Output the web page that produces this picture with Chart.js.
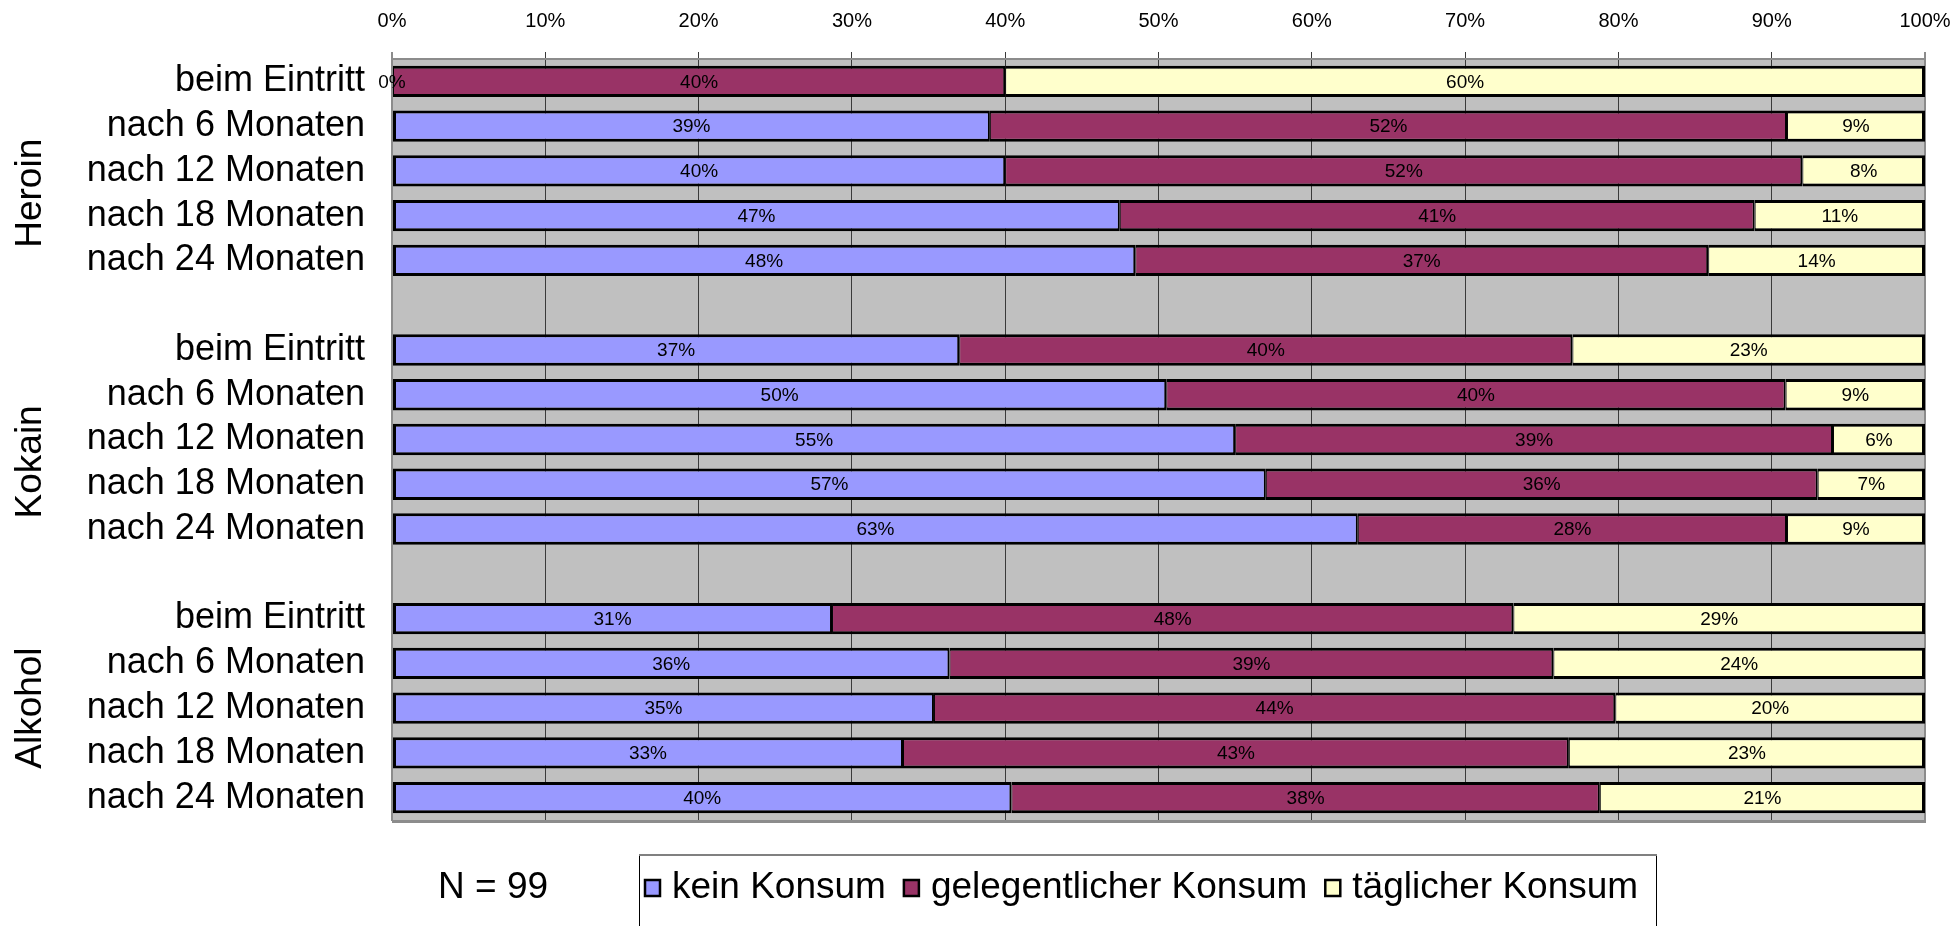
<!DOCTYPE html>
<html>
<head>
<meta charset="utf-8">
<script src="https://cdn.jsdelivr.net/npm/chart.js@4/dist/chart.umd.min.js"></script>
<style>
  html, body { margin: 0; padding: 0; background: #fff; }
  #wrap { width: 1952px; height: 926px; position: relative; }
</style>
</head>
<body>
<div id="wrap"><canvas id="chart"></canvas></div>
<script>
// Werte aus dem Diagramm (Prozent, wie beschriftet)
const groups = ['Heroin', 'Kokain', 'Alkohol'];
const rowLabels = ['beim Eintritt', 'nach 6 Monaten', 'nach 12 Monaten', 'nach 18 Monaten', 'nach 24 Monaten'];
const seriesNames = ['kein Konsum', 'gelegentlicher Konsum', 'täglicher Konsum'];
const seriesColors = ['#9999FF', '#993366', '#FFFFCC'];

const keinKonsum   = [0, 39, 40, 47, 48,   37, 50, 55, 57, 63,   31, 36, 35, 33, 40];
const gelegentlich = [40, 52, 52, 41, 37,  40, 40, 39, 36, 28,   48, 39, 44, 43, 38];
const taeglich     = [60, 9, 8, 11, 14,    23, 9, 6, 7, 9,       29, 24, 20, 23, 21];

const sampleNote = 'N = 99';
const FONT = "'Liberation Sans', Arial, sans-serif";
const NARROW = "'Liberation Sans Narrow', 'Arial Narrow', 'Liberation Sans', sans-serif";

// Kategorien mit Leerzeile zwischen den Gruppen aufbauen
const categories = [];
const rowIndex = [];   // Position in den Wertereihen, null = Leerzeile
const groupRows = [];  // erste/letzte Zeile je Gruppe (inkl. Leerzeile)
groups.forEach((g, gi) => {
    const first = categories.length;
    rowLabels.forEach((r, ri) => {
        categories.push(r);
        rowIndex.push(gi * rowLabels.length + ri);
    });
    if (gi < groups.length - 1) {
        categories.push('');
        rowIndex.push(null);
    }
    groupRows.push([first, categories.length - 1]);
});

const raw = [keinKonsum, gelegentlich, taeglich];

// 100%-gestapelt: Balkenlänge als Anteil an der Zeilensumme
function shares(si) {
    return rowIndex.map(i => {
        if (i === null) return null;
        const sum = keinKonsum[i] + gelegentlich[i] + taeglich[i];
        return raw[si][i] / sum * 100;
    });
}
function pcts(si) {
    return rowIndex.map(i => i === null ? null : raw[si][i]);
}

const borders = [
    { top: 3, bottom: 3, left: 3, right: 2 },
    { top: 3, bottom: 3, left: 1, right: 2 },
    { top: 3, bottom: 3, left: 1, right: 3 }
];

const datasets = seriesNames.map((name, si) => ({
    label: name,
    data: shares(si),
    pct: pcts(si),
    backgroundColor: seriesColors[si],
    borderColor: '#000',
    borderWidth: borders[si],
    borderSkipped: false,
    inflateAmount: 0,
    barPercentage: 0.7,
    categoryPercentage: 1.0
}));

const plotBackground = {
    id: 'plotBackground',
    beforeDraw(chart) {
        const { ctx, chartArea: a } = chart;
        ctx.save();
        ctx.fillStyle = '#C0C0C0';
        ctx.fillRect(a.left, a.top, a.right - a.left, a.bottom - a.top);
        ctx.restore();
    },
    afterDraw(chart) {
        const { ctx, chartArea: a } = chart;
        ctx.save();
        ctx.strokeStyle = '#8c8c8c';
        ctx.lineWidth = 3;
        ctx.beginPath();
        ctx.moveTo(a.left, a.bottom + 1.5);
        ctx.lineTo(a.right + 1, a.bottom + 1.5);
        ctx.stroke();
        ctx.restore();
    }
};

const barLabels = {
    id: 'barLabels',
    afterDatasetsDraw(chart) {
        const ctx = chart.ctx;
        ctx.save();
        ctx.font = '19px ' + NARROW;
        ctx.fillStyle = '#000';
        ctx.textAlign = 'center';
        ctx.textBaseline = 'middle';
        chart.data.datasets.forEach((ds, di) => {
            chart.getDatasetMeta(di).data.forEach((bar, i) => {
                if (ds.pct[i] === null) return;
                const p = bar.getCenterPoint();
                ctx.fillText(ds.pct[i] + '%', p.x, p.y + 1);
            });
        });
        ctx.restore();
    }
};

const groupLabels = {
    id: 'groupLabels',
    afterDraw(chart) {
        const ctx = chart.ctx;
        const y = chart.scales.y;
        ctx.save();
        ctx.font = '37px ' + FONT;
        ctx.fillStyle = '#000';
        ctx.textAlign = 'center';
        ctx.textBaseline = 'middle';
        groups.forEach((g, gi) => {
            const [a, b] = groupRows[gi];
            const cy = (y.getPixelForValue(a) + y.getPixelForValue(b)) / 2;
            ctx.save();
            ctx.translate(31, cy);
            ctx.rotate(-Math.PI / 2);
            ctx.fillText(g, 0, 0);
            ctx.restore();
        });
        ctx.restore();
    }
};

const boxLegend = {
    id: 'boxLegend',
    afterDraw(chart) {
        const ctx = chart.ctx;
        const cy = 888;
        ctx.save();
        // Rahmen
        ctx.strokeStyle = '#000';
        ctx.lineWidth = 1;
        ctx.strokeRect(639.5, 855.5, 1017, 100);
        ctx.strokeStyle = '#808080';
        ctx.lineWidth = 2;
        ctx.beginPath();
        ctx.moveTo(639, 855);
        ctx.lineTo(1657, 855);
        ctx.stroke();

        ctx.font = '37px ' + FONT;
        ctx.textBaseline = 'middle';
        ctx.textAlign = 'left';
        ctx.fillStyle = '#000';
        ctx.fillText(sampleNote, 438, cy);

        let x = 645;
        chart.data.datasets.forEach(ds => {
            ctx.fillStyle = ds.backgroundColor;
            ctx.fillRect(x, cy - 8, 15, 16);
            ctx.strokeStyle = '#000';
            ctx.lineWidth = 2.5;
            ctx.strokeRect(x, cy - 8, 15, 16);
            ctx.fillStyle = '#000';
            ctx.fillText(ds.label, x + 27, cy);
            x += 27 + ctx.measureText(ds.label).width + 18;
        });
        ctx.restore();
    }
};

new Chart(document.getElementById('chart'), {
    type: 'bar',
    data: { labels: categories, datasets: datasets },
    options: {
        indexAxis: 'y',
        responsive: true,
        maintainAspectRatio: false,
        animation: false,
        layout: { padding: { top: 0, right: 27, bottom: 106, left: 0 } },
        plugins: {
            legend: { display: false },
            tooltip: { enabled: false }
        },
        scales: {
            x: {
                position: 'top',
                stacked: true,
                min: 0,
                max: 100,
                ticks: {
                    stepSize: 10,
                    padding: 19,
                    color: '#000',
                    font: { family: NARROW, size: 20 },
                    callback: v => v + '%'
                },
                grid: {
                    color: c => (c.index === 0 || c.index === 10) ? '#8c8c8c' : '#3a3a3a',
                    lineWidth: c => (c.index === 0 || c.index === 10) ? 2 : 1,
                    tickLength: 7,
                    drawTicks: true
                },
                border: { display: true, color: '#8c8c8c', width: 2 },
                afterFit(scale) {
                    scale.height = 59;
                    scale.paddingLeft = 0;
                    scale.paddingRight = 0;
                }
            },
            y: {
                stacked: true,
                ticks: {
                    autoSkip: false,
                    padding: 27,
                    color: '#000',
                    font: { family: FONT, size: 36 }
                },
                grid: { display: false, drawTicks: false },
                border: { display: true, color: '#8c8c8c', width: 2 },
                afterFit(scale) { scale.width = 392; }
            }
        }
    },
    plugins: [plotBackground, barLabels, groupLabels, boxLegend]
});
</script>
</body>
</html>
